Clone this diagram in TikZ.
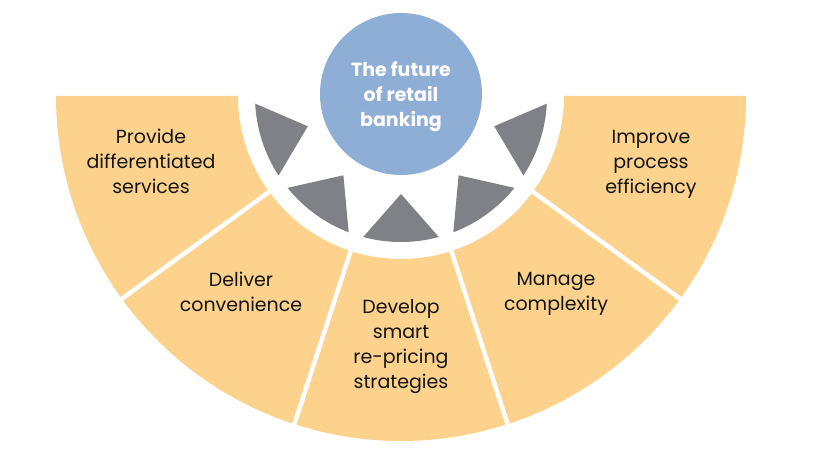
\documentclass[tikz,border=0pt]{standalone}
\usepackage{fontspec}
\setmainfont{Poppins}
\definecolor{ringyellow}{RGB}{252,210,141}
\definecolor{trigray}{RGB}{128,129,134}
\definecolor{hubblue}{RGB}{143,174,214}
\definecolor{labeltext}{RGB}{20,20,20}
\begin{document}
\begin{tikzpicture}[x=1pt,y=1pt,
  seg/.style={fill=ringyellow},
  gap/.style={draw=white, line width=4.5pt},
  tri/.style={fill=trigray},
  lbl/.style={align=center, inner sep=0pt, font=\fontsize{19}{25}\selectfont, text=labeltext},
  hub/.style={circle, fill=hubblue, minimum size=162pt, inner sep=0pt},
  hubtext/.style={align=center, inner sep=0pt, text=white, font=\bfseries\fontsize{19}{25}\selectfont}]
\fill[white] (-401,96) rectangle (439,-356);
\useasboundingbox (-401,96) rectangle (439,-356);
\foreach \a in {180,216,252,288,324} {
  \fill[seg] (\a:163) -- (\a:345) arc[start angle=\a, delta angle=36, radius=345] -- ({\a+36}:163) arc[start angle={\a+36}, delta angle=-36, radius=163] -- cycle;
}
\foreach \a in {216,252,288,324} \draw[gap] (\a:158) -- (\a:350);
\foreach \c in {198,234,270,306,342}
  \fill[tri] (\c:98) -- ({\c-15}:146) arc[start angle={\c-15}, delta angle=30, radius=146] -- cycle;
\node[hub] (hub) at (0,2) {};
\node[hubtext] (hubtext) at (0,-1) {The future\\of retail\\banking};
\node[lbl] (provide) at (-250,-65) {Provide\\differentiated\\services};
\node[lbl] (deliver) at (-160,-195.5) {Deliver\\convenience};
\node[lbl] (develop) at (0,-251) {Develop\\smart\\re-pricing\\strategies};
\node[lbl] (manage) at (155,-197.5) {Manage\\complexity};
\node[lbl] (improve) at (250,-68) {Improve\\process\\efficiency};
\end{tikzpicture}
\end{document}
